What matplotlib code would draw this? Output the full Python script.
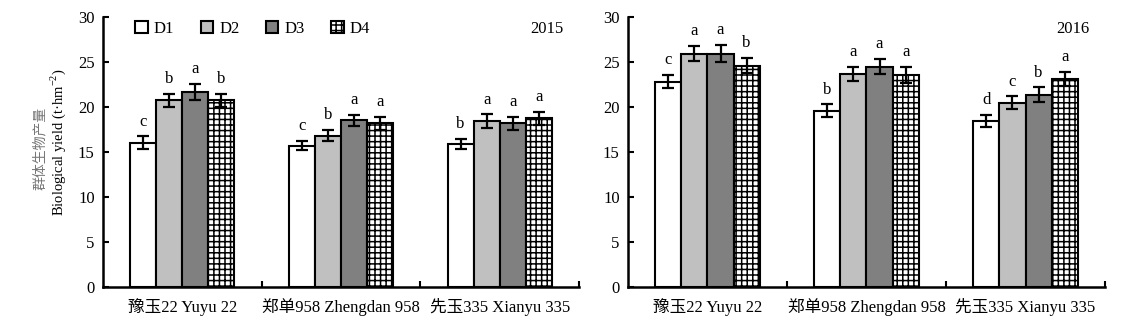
import matplotlib
matplotlib.use("Agg")
import matplotlib.pyplot as plt
import numpy as np

plt.rcParams['font.family'] = ['Liberation Serif', 'Noto Sans CJK SC']
plt.rcParams['mathtext.fontset'] = 'custom'
plt.rcParams['mathtext.rm'] = 'Liberation Serif'
plt.rcParams['hatch.linewidth'] = 1.1

# cultivars and density treatments
cultivars = ['豫玉22 Yuyu 22', '郑单958 Zhengdan 958', '先玉335 Xianyu 335']
densities = ['D1', 'D2', 'D3', 'D4']

# biological yield (t/hm2), rows = cultivar, cols = D1..D4
yield_2015 = [[16.0, 20.7, 21.6, 20.7],
              [15.7, 16.8, 18.5, 18.15],
              [15.85, 18.4, 18.15, 18.7]]
err_2015 = [[0.7, 0.7, 0.9, 0.75],
            [0.5, 0.6, 0.6, 0.7],
            [0.55, 0.75, 0.75, 0.75]]
letters_2015 = [['c', 'b', 'a', 'b'],
                ['c', 'b', 'a', 'a'],
                ['b', 'a', 'a', 'a']]

yield_2016 = [[22.8, 25.9, 25.9, 24.55],
              [19.55, 23.65, 24.45, 23.55],
              [18.45, 20.45, 21.35, 23.05]]
err_2016 = [[0.75, 0.85, 0.95, 0.85],
            [0.7, 0.8, 0.85, 0.9],
            [0.65, 0.7, 0.8, 0.8]]
letters_2016 = [['c', 'a', 'a', 'b'],
                ['b', 'a', 'a', 'a'],
                ['d', 'c', 'b', 'a']]

fills = ['white', '#c0c0c0', '#808080', 'white']
hatches = [None, None, None, '+++']

FS = 12
W = 0.164


def draw_panel(ax, vals, errs, letters, year, legend=False):
    vals = np.array(vals)
    errs = np.array(errs)
    x = np.arange(len(cultivars))
    for i, d in enumerate(densities):
        pos = x + (i - 1.5) * W
        ax.bar(pos, vals[:, i], W, color=fills[i], edgecolor='black',
               linewidth=1.5, hatch=hatches[i], label=d, zorder=2)
        ax.errorbar(pos, vals[:, i], yerr=errs[:, i], fmt='none',
                    ecolor='black', elinewidth=1.6, capsize=4.3,
                    capthick=1.6, zorder=3)
        for j in range(len(cultivars)):
            ax.text(pos[j], vals[j, i] + errs[j, i] + 0.75, letters[j][i],
                    ha='center', va='bottom', fontsize=FS)

    ax.set_xlim(-0.5, 2.5)
    ax.set_ylim(0, 30)
    ax.set_yticks(np.arange(0, 31, 5))
    ax.set_xticks(x)
    ax.set_xticklabels(cultivars, fontsize=FS)
    ax.set_xticks([0.5, 1.5, 2.5], minor=True)
    ax.tick_params(axis='x', which='major', length=0, pad=8)
    ax.tick_params(axis='x', which='minor', direction='in', length=4,
                   width=1.5)
    ax.tick_params(axis='y', direction='in', length=4, width=1.5,
                   labelsize=FS, pad=6)
    for s in ['top', 'right']:
        ax.spines[s].set_visible(False)
    for s in ['left', 'bottom']:
        ax.spines[s].set_linewidth(1.8)

    ax.text(0.967, 0.954, year, transform=ax.transAxes, ha='right',
            va='center', fontsize=FS)

    if legend:
        ax.legend(loc='center left', bbox_to_anchor=(0.068, 0.954),
                  ncol=4, frameon=False, fontsize=FS, handlelength=0.75,
                  handleheight=0.75, handletextpad=0.35, columnspacing=1.6,
                  borderpad=0, borderaxespad=0)


fig = plt.figure(figsize=(11.24, 3.23), dpi=100)
ax1 = fig.add_axes([0.0916, 0.1115, 0.4235, 0.837])
ax2 = fig.add_axes([0.5587, 0.1115, 0.4244, 0.837])

draw_panel(ax1, yield_2015, err_2015, letters_2015, '2015', legend=True)
draw_panel(ax2, yield_2016, err_2016, letters_2016, '2016')

fig.text(40 / 1124, 1 - 148 / 323, '群体生物产量', rotation=90, ha='center',
         va='center', fontsize=10, color='#777777')
fig.text(58 / 1124, 1 - 142 / 323, 'Biological yield (t·hm$^{-2}$)',
         rotation=90, ha='center', va='center', fontsize=10.5)

fig.savefig('out.png', dpi=100)
